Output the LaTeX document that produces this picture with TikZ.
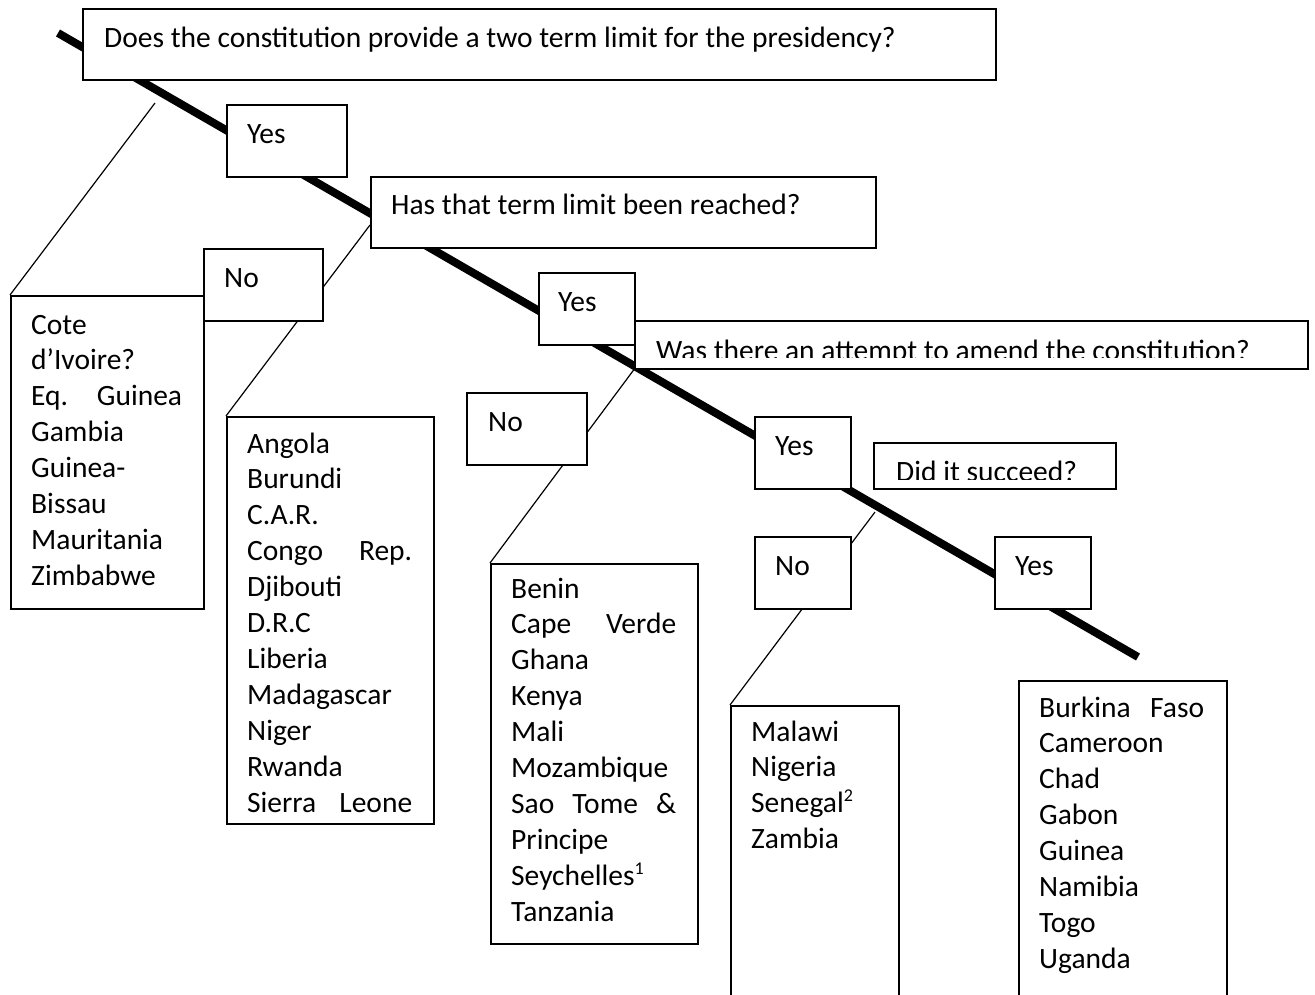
\documentclass[tikz,border=0pt]{standalone}
\usepackage{fontspec}
\setmainfont{Carlito}
\newcommand\dgfont{\fontsize{29.5pt}{35.9pt}\selectfont}
\newcommand\dgsup[1]{\raisebox{11pt}{\fontsize{18pt}{18pt}\selectfont #1}}
\pgfdeclarelayer{bg}
\pgfsetlayers{bg,main}
\begin{document}
\begin{tikzpicture}[x=1pt,y=-1pt,
  box/.style={draw, fill=white, line width=1.5pt, inner sep=0pt, anchor=north west},
  txt/.style={anchor=base west, inner sep=0pt, font=\dgfont},
  listtxt/.style={anchor=base west, inner sep=0pt, align=left, font=\dgfont},
  trunk/.style={line width=8pt},
  branch/.style={line width=1.2pt}]
\useasboundingbox (0,0) rectangle (1315,994);

% boxes
\node[box, minimum width=913pt, minimum height=71pt] (q1) at (82,8) {};
\node[box, minimum width=120pt, minimum height=72pt] (yes1) at (226,104) {};
\node[box, minimum width=505pt, minimum height=71pt] (q2) at (370,176) {};
\node[box, minimum width=119pt, minimum height=72pt] (no1) at (203,248) {};
\node[box, minimum width=193pt, minimum height=313pt] (cote) at (10,295) {};
\node[box, minimum width=207pt, minimum height=407pt] (angola) at (226,416) {};
\node[box, minimum width=673pt, minimum height=48pt] (q3) at (634,320) {};
\node[box, minimum width=96pt, minimum height=72pt] (yes2) at (538,272) {};
\node[box, minimum width=120pt, minimum height=72pt] (no2) at (466,392) {};
\node[box, minimum width=207pt, minimum height=380pt] (benin) at (490,563) {};
\node[box, minimum width=96pt, minimum height=72pt] (yes3) at (754,416) {};
\node[box, minimum width=242pt, minimum height=46pt] (q4) at (873,442) {};
\node[box, minimum width=96pt, minimum height=72pt] (no3) at (754,536) {};
\node[box, minimum width=168pt, minimum height=300pt] (malawi) at (730,705) {};
\node[box, minimum width=96pt, minimum height=72pt] (yes4) at (994,536) {};
\node[box, minimum width=208pt, minimum height=320pt] (burkina) at (1018,680) {};

% connectors (behind the boxes)
\coordinate (t0) at (58,33);
\coordinate (t1) at (1138,657);
\coordinate (a0) at (155,103);
\coordinate (b0) at (370,225);
\coordinate (d0) at (875,512);
\begin{pgfonlayer}{bg}
\draw[trunk] (t0) -- (t1);
\draw[branch] (a0) -- (cote.north west);
\draw[branch] (b0) -- (angola.north west);
\draw[branch] (q3.south west) -- (benin.north west);
\draw[branch] (d0) -- (malawi.north west);
\end{pgfonlayer}

% texts
\node[txt] (tq1) at (104,47) {Does the constitution provide a two term limit for the presidency?};
\node[txt] (tyes1) at (247,143) {Yes};
\node[txt] (tq2) at (391,214) {Has that term limit been reached?};
\node[txt] (tno1) at (224,287) {No};
\node[txt] (tyes2) at (558,311) {Yes};
\begin{scope}
\clip (634,320) rectangle (1307,357.5);
\node[txt] (tq3) at (656,360) {Was there an attempt to amend the constitution?};
\end{scope}
\node[txt] (tno2) at (488,431) {No};
\node[txt] (tyes3) at (775,455) {Yes};
\begin{scope}
\clip (873,442) rectangle (1115,479);
\node[txt] (tq4) at (896,481) {Did it succeed?};
\end{scope}
\node[txt] (tno3) at (775,575) {No};
\node[txt] (tyes4) at (1015,575) {Yes};

\node[listtxt, text width=151pt] (lcote) at (31,334) {Cote\\ d’Ivoire?\\ Eq.\hfill Guinea\\ Gambia\\ Guinea-\\ Bissau\\ Mauritania\\ Zimbabwe};
\node[listtxt, text width=165pt] (langola) at (247,453) {Angola\\ Burundi\\ C.A.R.\\ Congo\hfill Rep.\\ Djibouti\\ D.R.C\\ Liberia\\ Madagascar\\ Niger\\ Rwanda\\ Sierra\hfill Leone};
\node[listtxt, text width=165pt] (lbenin) at (511,598) {Benin\\ Cape\hfill Verde\\ Ghana\\ Kenya\\ Mali\\ Mozambique\\ Sao\hfill Tome\hfill \&\\ Principe\\ Seychelles\dgsup{1}\\ Tanzania};
\node[listtxt, text width=140pt] (lmalawi) at (751,741) {Malawi\\ Nigeria\\ Senegal\dgsup{2}\\ Zambia};
\node[listtxt, text width=165pt] (lburkina) at (1039,717) {Burkina\hfill Faso\\ Cameroon\\ Chad\\ Gabon\\ Guinea\\ Namibia\\ Togo\\ Uganda};
\end{tikzpicture}
\end{document}
